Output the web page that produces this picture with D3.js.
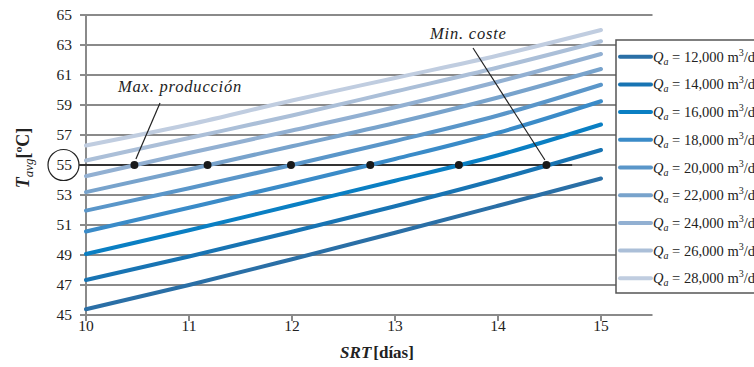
<!DOCTYPE html>
<html>
<head>
<meta charset="utf-8">
<script src="https://cdn.jsdelivr.net/npm/d3@7"></script>
<style>
  html, body { margin: 0; padding: 0; background: #fff; }
  svg { display: block; }
  text { font-family: "Liberation Serif", "Times New Roman", serif; fill: #222; }
</style>
</head>
<body>
<svg id="chart" width="754" height="367"></svg>
<script>
// SRT values (days) at which each curve is sampled
const srt = [10, 11, 12, 13, 14, 15];

// Influent flow rates Qa (m3/d), one curve each
const flows = [12000, 14000, 16000, 18000, 20000, 22000, 24000, 26000, 28000];

// Average temperature Tavg (ºC) for each flow, in SRT order
const t12000 = [45.38, 47.00, 48.72, 50.48, 52.28, 54.10];
const t14000 = [47.33, 48.90, 50.55, 52.25, 54.05, 56.00];
const t16000 = [49.07, 50.65, 52.30, 53.95, 55.65, 57.70];
const t18000 = [50.57, 52.15, 53.75, 55.40, 57.15, 59.25];
const t20000 = [51.96, 53.45, 55.00, 56.60, 58.30, 60.35];
const t22000 = [53.19, 54.70, 56.25, 57.80, 59.50, 61.40];
const t24000 = [54.26, 55.80, 57.30, 58.85, 60.55, 62.40];
const t26000 = [55.30, 56.80, 58.30, 59.90, 61.50, 63.25];
const t28000 = [56.30, 57.70, 59.30, 60.80, 62.30, 64.00];
const temps = [t12000, t14000, t16000, t18000, t20000, t22000, t24000, t26000, t28000];

// Line colours, darkest (lowest flow) to lightest
const colors = ["#2a6fa6", "#1874b3", "#0a7fc3", "#3a8bc8", "#5a96c9",
                "#78a3cc", "#92b0d2", "#abbfd8", "#c0cde0"];

// Target temperature and the SRT where each curve reaches it
const targetT = 55;
const crossSRT = [10.47, 11.18, 11.99, 12.76, 13.62, 14.47];
const targetLineEnd = 14.72;

// Axis ticks
const xTicks = [10, 11, 12, 13, 14, 15];
const yTicks = [45, 47, 49, 51, 53, 55, 57, 59, 61, 63, 65];

// Annotation texts
const maxLabel = "Max. producción";
const minLabel = "Min. coste";

const svg = d3.select("#chart");

const x = d3.scaleLinear().domain([10, 15.5]).range([86, 652.5]);
const y = d3.scaleLinear().domain([45, 65]).range([315, 15]);

const grid = "#8a8a8a";

// Horizontal gridlines (extend a little left as tick marks)
svg.append("g").selectAll("line").data(yTicks).join("line")
  .attr("x1", 80).attr("x2", x.range()[1])
  .attr("y1", d => y(d)).attr("y2", d => y(d))
  .attr("stroke", grid).attr("stroke-width", 2);

// Vertical axis line
svg.append("line")
  .attr("x1", x(10)).attr("x2", x(10))
  .attr("y1", y(65)).attr("y2", y(45) + 1)
  .attr("stroke", grid).attr("stroke-width", 2);

// X axis tick marks
svg.append("g").selectAll("line").data(xTicks).join("line")
  .attr("x1", d => x(d)).attr("x2", d => x(d))
  .attr("y1", y(45)).attr("y2", y(45) + 6)
  .attr("stroke", grid).attr("stroke-width", 2);

// Y tick labels
svg.append("g").selectAll("text").data(yTicks).join("text")
  .attr("x", 72).attr("y", d => y(d))
  .attr("dy", "0.35em")
  .attr("text-anchor", "end")
  .attr("font-size", 15.5)
  .text(d => d);

// X tick labels
svg.append("g").selectAll("text").data(xTicks).join("text")
  .attr("x", d => x(d)).attr("y", 331)
  .attr("text-anchor", "middle")
  .attr("font-size", 15.5)
  .text(d => d);

// Circle around the target temperature label
svg.append("circle")
  .attr("cx", 63.5).attr("cy", y(targetT)).attr("r", 15.5)
  .attr("fill", "none").attr("stroke", "#222").attr("stroke-width", 1.2);

// Target temperature line
svg.append("line")
  .attr("x1", 79).attr("x2", x(targetLineEnd))
  .attr("y1", y(targetT)).attr("y2", y(targetT))
  .attr("stroke", "#333").attr("stroke-width", 2);

// Curves
const line = d3.line()
  .x((d, i) => x(srt[i]))
  .y(d => y(d))
  .curve(d3.curveMonotoneX);

svg.append("g").selectAll("path").data(temps).join("path")
  .attr("d", d => line(d))
  .attr("fill", "none")
  .attr("stroke", (d, i) => colors[i])
  .attr("stroke-width", 4)
  .attr("stroke-linecap", "round");

// Crossing points on the target line
svg.append("g").selectAll("circle").data(crossSRT).join("circle")
  .attr("cx", d => x(d)).attr("cy", y(targetT)).attr("r", 4)
  .attr("fill", "#1a1a1a");

// Annotations
svg.append("text")
  .attr("x", 118).attr("y", 92)
  .attr("font-size", 16.5).attr("font-style", "italic")
  .attr("letter-spacing", 0.8)
  .text(maxLabel);
svg.append("line")
  .attr("x1", 160).attr("y1", 103)
  .attr("x2", x(crossSRT[0]) + 1.5).attr("y2", y(targetT) - 6)
  .attr("stroke", "#222").attr("stroke-width", 1.2);

svg.append("text")
  .attr("x", 430).attr("y", 39)
  .attr("font-size", 16.5).attr("font-style", "italic")
  .attr("letter-spacing", 0.8)
  .text(minLabel);
svg.append("line")
  .attr("x1", 473).attr("y1", 48)
  .attr("x2", x(crossSRT[5]) - 1.5).attr("y2", y(targetT) - 5)
  .attr("stroke", "#222").attr("stroke-width", 1.2);

// Y axis title
const yt = svg.append("text")
  .attr("transform", "translate(29,158) rotate(-90)")
  .attr("text-anchor", "middle")
  .attr("font-size", 18).attr("font-weight", "bold");
yt.append("tspan").attr("font-style", "italic").text("T");
yt.append("tspan").attr("font-style", "italic").attr("font-weight", "normal")
  .attr("font-size", 13).attr("dy", 4).text("avg");
yt.append("tspan").attr("dy", -4).text("[ºC]");

// X axis title
const xt = svg.append("text")
  .attr("x", 377).attr("y", 358)
  .attr("text-anchor", "middle")
  .attr("font-size", 17).attr("font-weight", "bold");
xt.append("tspan").attr("font-style", "italic").text("SRT");
xt.append("tspan").attr("dx", 2).text("[días]");

// Legend
const lg = svg.append("g");
lg.append("rect")
  .attr("x", 616).attr("y", 40).attr("width", 160).attr("height", 253)
  .attr("fill", "#fff").attr("stroke", "#555").attr("stroke-width", 1.5);

const rowY = i => 56.7 + i * 27.7;
const rows = lg.selectAll("g.row").data(flows).join("g").attr("class", "row");
rows.append("line")
  .attr("x1", 620).attr("x2", 651)
  .attr("y1", (d, i) => rowY(i)).attr("y2", (d, i) => rowY(i))
  .attr("stroke", (d, i) => colors[i])
  .attr("stroke-width", 4).attr("stroke-linecap", "round");
const lt = rows.append("text")
  .attr("x", 653).attr("y", (d, i) => rowY(i) + 5)
  .attr("font-size", 14.5);
lt.append("tspan").attr("font-style", "italic").text("Q");
lt.append("tspan").attr("font-style", "italic").attr("font-size", 10).attr("dy", 3).text("a");
lt.append("tspan").attr("dy", -3).text(d => " = " + d3.format(",")(d) + " m");
lt.append("tspan").attr("font-size", 10).attr("dy", -6).text("3");
lt.append("tspan").attr("dy", 6).text("/d");
</script>
</body>
</html>
